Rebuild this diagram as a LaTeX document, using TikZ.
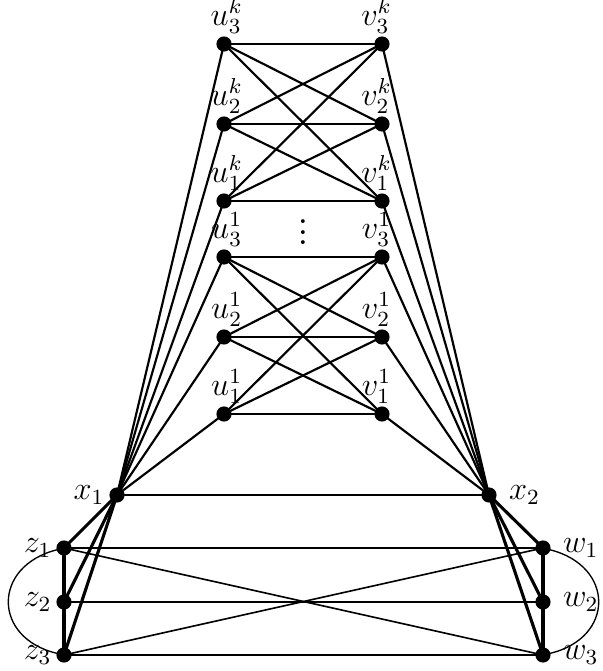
\documentclass[tikz,border=0pt]{standalone}
\usepackage{amsmath,amssymb}
\usepackage{tikz}
\usetikzlibrary{calc,positioning}
\tikzset{
 gd vertex/.style={circle,fill=black,draw=black,minimum size=5.2pt,
                   inner sep=0pt,outer sep=0pt},
 gd edge/.style={line width=.8pt},
 gd bottom/.style={line width=.6pt},
 gd heavy/.style={line width=1.15pt},
 gd hull/.style={line width=.5pt},
 gd label/.style={inner sep=1pt,font=\large},
 gd u label/.style={gd label,xshift=1pt},
 gd v label/.style={gd label,xshift=-2pt},
 gd side label/.style={gd label,label distance=.8pt},
 gd far label/.style={gd label,label distance=3.6pt}
}

\begin{document}
\begin{tikzpicture}[x=0.013cm,y=-0.013cm]
 \useasboundingbox (0,0) rectangle (603,671);

 % the two blocks
 \node[gd vertex,label={[gd u label]above:$u_3^k$}] (u3k) at (224,44) {};
 \node[gd vertex,label={[gd u label]above:$u_2^k$}] (u2k) at (224,124) {};
 \node[gd vertex,label={[gd u label]above:$u_1^k$}] (u1k) at (224,201) {};
 \node[gd vertex,label={[gd v label]above:$v_3^k$}] (v3k) at (382,44) {};
 \node[gd vertex,label={[gd v label]above:$v_2^k$}] (v2k) at (382,124) {};
 \node[gd vertex,label={[gd v label]above:$v_1^k$}] (v1k) at (382,201) {};
 \node[gd vertex,label={[gd u label]above:$u_3^1$}] (u31) at (224,257) {};
 \node[gd vertex,label={[gd u label]above:$u_2^1$}] (u21) at (224,337) {};
 \node[gd vertex,label={[gd u label]above:$u_1^1$}] (u11) at (224,414) {};
 \node[gd vertex,label={[gd v label]above:$v_3^1$}] (v31) at (382,257) {};
 \node[gd vertex,label={[gd v label]above:$v_2^1$}] (v21) at (382,337) {};
 \node[gd vertex,label={[gd v label]above:$v_1^1$}] (v11) at (382,414) {};
 \node[font=\LARGE] (dots) at (303,224) {$\boldsymbol{\vdots}$};

 \node[gd vertex,label={[gd side label]left:$x_1$}] (x1) at (117,495) {};
 \node[gd vertex,label={[gd far label]right:$x_2$}] (x2) at (489,495) {};

 \node[gd vertex,label={[gd side label]left:$z_1$}] (z1) at (64,548) {};
 \node[gd vertex,label={[gd side label]left:$z_2$}] (z2) at (64,602) {};
 \node[gd vertex,label={[gd side label]left:$z_3$}] (z3) at (64,655) {};
 \node[gd vertex,label={[gd far label]right:$w_1$}] (w1) at (543,548) {};
 \node[gd vertex,label={[gd far label]right:$w_2$}] (w2) at (543,602) {};
 \node[gd vertex,label={[gd far label]right:$w_3$}] (w3) at (543,655) {};

 % complete bipartite blocks and the spokes
 \foreach \b in {1,k} {
  \foreach \i in {1,2,3} {
   \foreach \j in {1,2,3} \draw[gd edge] (u\i\b) -- (v\j\b);
   \draw[gd edge] (x1) -- (u\i\b);
   \draw[gd edge] (x2) -- (v\i\b);
  }
 }
 \draw[gd bottom] (x1) -- (x2);

 % bottom part
 \foreach \i in {1,2,3} {
  \draw[gd heavy] (x1) -- (z\i);
  \draw[gd heavy] (x2) -- (w\i);
  \draw[gd bottom] (z\i) -- (w\i);
 }
 \draw[gd bottom] (z1) -- (w3);
 \draw[gd bottom] (z3) -- (w1);
 \draw[gd heavy] (z1) -- (z2) -- (z3);
 \draw[gd heavy] (w1) -- (w2) -- (w3);

 \draw[gd hull] (z1) .. controls (-8,566) and (-8,638) .. (z3);
 \draw[gd hull] (w1) .. controls (615,566) and (615,638) .. (w3);
\end{tikzpicture}
\end{document}
